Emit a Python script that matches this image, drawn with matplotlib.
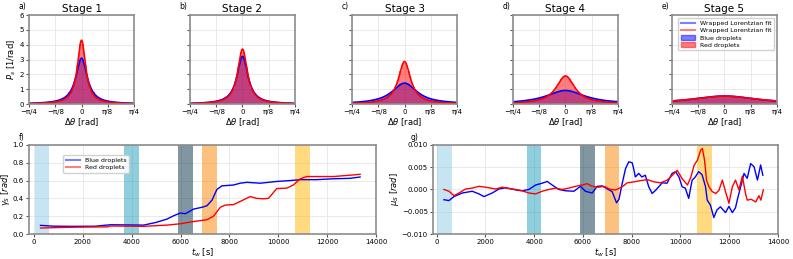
import numpy as np
import matplotlib.pyplot as plt
from matplotlib.lines import Line2D
from matplotlib.patches import Patch

# fitted wrapped Lorentzian widths per stage (read from peak heights / panel f)
stages = ["Stage 1", "Stage 2", "Stage 3", "Stage 4", "Stage 5"]
panel_tags = ["a)", "b)", "c)", "d)", "e)"]
gamma_blue = [0.103, 0.099, 0.226, 0.35, 0.60]
gamma_red = [0.074, 0.086, 0.111, 0.168, 0.61]

# stage time windows [s]
win_start = [30, 3700, 5900, 6900, 10700]
win_end = [630, 4300, 6500, 7500, 11300]
win_colors = ["#8ecae6", "#219ebc", "#023047", "#fb8500", "#ffb703"]

# panel f: gamma_S vs t_w
t_gb = [270, 800, 1500, 2500, 3130, 3800, 4490, 5000, 5450, 5720, 5990, 6200, 6540,
        6880, 7080, 7290, 7490, 7690, 8170, 8440, 8720, 9260, 9530, 9940, 10490,
        10900, 11570, 12260, 12940, 13350]
gb = [0.097, 0.088, 0.086, 0.087, 0.104, 0.102, 0.10, 0.13, 0.168, 0.205, 0.235,
      0.228, 0.28, 0.30, 0.317, 0.38, 0.50, 0.54, 0.55, 0.57, 0.58, 0.57, 0.578,
      0.59, 0.60, 0.61, 0.61, 0.62, 0.625, 0.64]
t_gr = [270, 1360, 2200, 3000, 3130, 4490, 5450, 5990, 6540, 7080, 7350, 7630, 7830,
        8170, 8440, 8850, 9120, 9400, 9600, 9940, 10350, 10620, 10900, 11170, 12260,
        12940, 13350]
gr = [0.067, 0.075, 0.078, 0.08, 0.09, 0.086, 0.10, 0.115, 0.14, 0.16, 0.20, 0.30,
      0.325, 0.33, 0.365, 0.42, 0.40, 0.395, 0.40, 0.51, 0.515, 0.55, 0.62, 0.645,
      0.645, 0.66, 0.67]

# panel g: mu_S vs t_w
t_mb = [300, 505, 710, 1050, 1460, 1735, 1940, 2280, 2555, 2830, 3240, 3510, 3785,
        4060, 4330, 4535, 4740, 5010, 5290, 5630, 5900, 6100, 6380, 6585, 6790,
        7200, 7380, 7480, 7610, 7750, 7880, 8020, 8090, 8150, 8290, 8420, 8560,
        8700, 8840, 8980, 9110, 9250, 9450, 9660, 9800, 9940, 10070, 10200, 10340,
        10480, 10610, 10750, 10890, 11030, 11100, 11230, 11370, 11500, 11640, 11850,
        11990, 12130, 12260, 12330, 12470, 12610, 12740, 12880, 13020, 13160,
        13290, 13380]
mb = [-0.0023, -0.0025, -0.0016, -0.0008, -0.0004, -0.001, -0.0016, -0.0008, 0.0001,
      0.0004, -0.0001, -0.0003, 0.0, 0.001, 0.0014, 0.0018, 0.001, 0.0, -0.0003,
      -0.0004, 0.0007, -0.0004, -0.0008, 0.0007, 0.0008, -0.0005, -0.003, -0.0022,
      0.0013, 0.0047, 0.0062, 0.006, 0.0045, 0.0028, 0.0036, 0.0028, 0.0032, 0.0006,
      -0.0009, -0.0002, 0.0006, 0.0015, 0.0014, 0.0036, 0.004, 0.0028, 0.0006,
      0.0003, -0.002, 0.0021, 0.0028, 0.004, 0.0033, 0.0006, -0.0024, -0.0035,
      -0.0063, -0.0046, -0.0039, -0.0052, -0.0038, -0.0052, -0.0041, -0.0024,
      0.0006, 0.0036, 0.0025, 0.0058, 0.0051, 0.0021, 0.0055, 0.0032]
t_mr = [300, 505, 710, 915, 1190, 1460, 1735, 2010, 2420, 2690, 2965, 3240, 3510,
        3785, 4060, 4330, 4600, 4880, 5150, 5420, 5700, 5970, 6170, 6380, 6650,
        6860, 7130, 7350, 7610, 7820, 8090, 8380, 8650, 8920, 9190, 9460, 9670,
        9870, 10070, 10290, 10430, 10560, 10700, 10830, 10900, 10990, 11070, 11170,
        11310, 11450, 11580, 11720, 11850, 11990, 12130, 12260, 12400, 12540, 12670,
        12740, 12900, 13090, 13220, 13300, 13400]
mr = [0.0, -0.0004, -0.0014, -0.0008, 0.0001, 0.0003, 0.0007, 0.0005, 0.0001,
      0.0005, 0.0002, 0.0, -0.0003, -0.0008, -0.001, -0.0004, 0.0, 0.0003, 0.0,
      0.0003, 0.0007, 0.001, 0.0013, 0.0007, 0.0005, 0.0007, 0.0, -0.0001, 0.0006,
      0.0015, 0.0017, 0.002, 0.0022, 0.0017, 0.0015, 0.0021, 0.0032, 0.0043,
      0.0024, 0.001, 0.0028, 0.0054, 0.0066, 0.0088, 0.0092, 0.0066, 0.0021,
      0.0006, -0.0005, -0.0009, -0.0002, 0.0021, -0.0005, -0.0031, 0.0006, 0.0021,
      -0.0001, 0.003, -0.0009, -0.0024, -0.0022, -0.0028, -0.0014, -0.0024, -0.0001]


def wrapped_lorentzian(theta, gamma, mu=0.0):
    return np.sinh(gamma) / (np.cosh(gamma) - np.cos(theta - mu)) / (2 * np.pi)


def style_axes(ax):
    for s in ax.spines.values():
        s.set_color("#8c8c8c")
        s.set_linewidth(1.2)
    ax.tick_params(labelsize=5, length=2.5, width=0.8, color="#555555", pad=1.2)
    ax.grid(True, color="#e6e6e6", linewidth=0.6)
    ax.set_axisbelow(True)


plt.rcParams["font.family"] = "DejaVu Sans"
fig = plt.figure(figsize=(7.93, 2.59), dpi=100)

top_left = [0.0366, 0.2396, 0.4439, 0.6469, 0.8474]
theta = np.linspace(-np.pi / 4, np.pi / 4, 400)
bin_edges = np.linspace(-np.pi / 4, np.pi / 4, 41)
centers = 0.5 * (bin_edges[1:] + bin_edges[:-1])
bw = bin_edges[1] - bin_edges[0]

for i in range(5):
    ax = fig.add_axes([top_left[i], 0.598, 0.1324, 0.344])
    style_axes(ax)
    ax.bar(centers, wrapped_lorentzian(centers, gamma_blue[i]), width=bw,
           color="blue", alpha=0.5, linewidth=0)
    ax.bar(centers, wrapped_lorentzian(centers, gamma_red[i]), width=bw,
           color="red", alpha=0.5, linewidth=0)
    ax.plot(theta, wrapped_lorentzian(theta, gamma_blue[i]), color="blue", lw=1.2)
    ax.plot(theta, wrapped_lorentzian(theta, gamma_red[i]), color="red", lw=1.2)
    ax.set_xlim(-np.pi / 4, np.pi / 4)
    ax.set_ylim(0, 6)
    ax.set_xticks([-np.pi / 4, -np.pi / 8, 0, np.pi / 8, np.pi / 4])
    ax.set_xticklabels(["\u2212\u03c0/4", "\u2212\u03c0/8", "0", "\u03c0/8", "\u03c0/4"])
    ax.set_yticks(range(7))
    if i > 0:
        ax.set_yticklabels([])
    else:
        ax.set_ylabel("$P_s$ [1/rad]", fontsize=6, labelpad=1)
    ax.set_xlabel(r"$\Delta\theta$ [rad]", fontsize=6, labelpad=1)
    ax.set_title(stages[i], fontsize=7.5, pad=2)
    ax.text(-0.1, 1.04, panel_tags[i], transform=ax.transAxes, fontsize=5.5,
            va="bottom")
    if i == 4:
        handles = [Line2D([], [], color="blue", alpha=0.5, lw=1.5),
                   Line2D([], [], color="red", alpha=0.5, lw=1.5),
                   Patch(color="blue", alpha=0.5), Patch(color="red", alpha=0.5)]
        ax.legend(handles, ["Wrapped Lorentzian fit", "Wrapped Lorentzian fit",
                            "Blue droplets", "Red droplets"],
                  loc="upper right", fontsize=4.5, handlelength=2.2,
                  borderpad=0.4, labelspacing=0.3, framealpha=0.9)

# panel f
axf = fig.add_axes([0.0366, 0.0965, 0.4375, 0.344])
style_axes(axf)
for a, b, c in zip(win_start, win_end, win_colors):
    axf.axvspan(a, b, color=c, alpha=0.5, lw=0)
axf.plot(t_gb, gb, color="blue", lw=1.0, label="Blue droplets")
axf.plot(t_gr, gr, color="red", lw=1.0, label="Red droplets")
axf.set_xlim(-200, 14000)
axf.set_ylim(0, 1.0)
axf.set_xticks(range(0, 14001, 2000))
axf.set_yticks(np.arange(0, 1.01, 0.2))
axf.set_ylabel(r"$\gamma_S$ [$rad$]", fontsize=6, labelpad=0.5)
axf.set_xlabel(r"$t_w$ [s]", fontsize=6, labelpad=1)
axf.text(-0.03, 1.03, "f)", transform=axf.transAxes, fontsize=5.5, va="bottom")
hf = [Line2D([], [], color="blue", alpha=0.5, lw=1.5),
      Line2D([], [], color="red", alpha=0.5, lw=1.5)]
axf.legend(hf, ["Blue droplets", "Red droplets"], loc="upper left",
           bbox_to_anchor=(0.09, 0.92), fontsize=4.5, handlelength=2.2,
           borderpad=0.4, labelspacing=0.3, framealpha=0.9)

# panel g
axg = fig.add_axes([0.546, 0.0965, 0.435, 0.344])
style_axes(axg)
for a, b, c in zip(win_start, win_end, win_colors):
    axg.axvspan(a, b, color=c, alpha=0.5, lw=0)
axg.plot(t_mb, mb, color="blue", lw=1.0)
axg.plot(t_mr, mr, color="red", lw=1.0)
axg.set_xlim(-150, 14000)
axg.set_ylim(-0.01, 0.01)
axg.set_xticks(range(0, 14001, 2000))
axg.set_yticks([-0.01, -0.005, 0, 0.005, 0.01])
axg.set_yticklabels(["\u22120.010", "\u22120.005", "0.000", "0.005", "0.010"])
axg.set_ylabel(r"$\mu_S$ [$rad$]", fontsize=6, labelpad=0.5)
axg.set_xlabel(r"$t_w$ [s]", fontsize=6, labelpad=1)
axg.text(-0.065, 1.03, "g)", transform=axg.transAxes, fontsize=5.5, va="bottom")

fig.savefig("out.png", dpi=100)
